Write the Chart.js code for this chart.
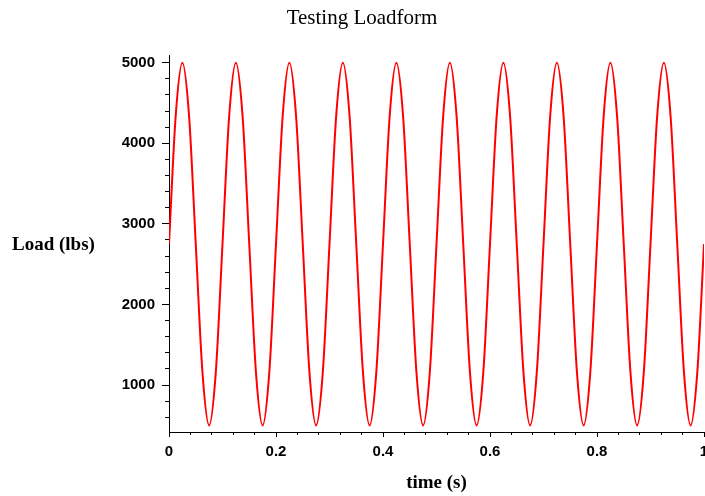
<!DOCTYPE html>
<html>
<head>
<meta charset="utf-8">
<script src="https://cdn.jsdelivr.net/npm/chart.js@4/dist/chart.umd.min.js"></script>
<style>
  html, body { margin: 0; padding: 0; background: #fff; }
  #wrap { width: 705px; height: 496px; }
</style>
</head>
<body>
<div id="wrap"><canvas id="chart"></canvas></div>
<script>
const chartTitle = 'Testing Loadform';
const xTitle = 'time (s)';
const yTitle = 'Load (lbs)';

const xTicks = [0, 0.2, 0.4, 0.6, 0.8, 1];
const yTicks = [1000, 2000, 3000, 4000, 5000];

// time samples (s), every 1/8 cycle
const times = [
  0, 0.0125, 0.025, 0.0375, 0.05, 0.0625, 0.075, 0.0875,
  0.1, 0.1125, 0.125, 0.1375, 0.15, 0.1625, 0.175, 0.1875,
  0.2, 0.2125, 0.225, 0.2375, 0.25, 0.2625, 0.275, 0.2875,
  0.3, 0.3125, 0.325, 0.3375, 0.35, 0.3625, 0.375, 0.3875,
  0.4, 0.4125, 0.425, 0.4375, 0.45, 0.4625, 0.475, 0.4875,
  0.5, 0.5125, 0.525, 0.5375, 0.55, 0.5625, 0.575, 0.5875,
  0.6, 0.6125, 0.625, 0.6375, 0.65, 0.6625, 0.675, 0.6875,
  0.7, 0.7125, 0.725, 0.7375, 0.75, 0.7625, 0.775, 0.7875,
  0.8, 0.8125, 0.825, 0.8375, 0.85, 0.8625, 0.875, 0.8875,
  0.9, 0.9125, 0.925, 0.9375, 0.95, 0.9625, 0.975, 0.9875,
  1
];

// load (lbs) at those times
const loads = [
  2750, 4340, 5000, 4340, 2750, 1160, 500, 1160,
  2750, 4340, 5000, 4340, 2750, 1160, 500, 1160,
  2750, 4340, 5000, 4340, 2750, 1160, 500, 1160,
  2750, 4340, 5000, 4340, 2750, 1160, 500, 1160,
  2750, 4340, 5000, 4340, 2750, 1160, 500, 1160,
  2750, 4340, 5000, 4340, 2750, 1160, 500, 1160,
  2750, 4340, 5000, 4340, 2750, 1160, 500, 1160,
  2750, 4340, 5000, 4340, 2750, 1160, 500, 1160,
  2750, 4340, 5000, 4340, 2750, 1160, 500, 1160,
  2750, 4340, 5000, 4340, 2750, 1160, 500, 1160,
  2750
];

const points = times.map((t, i) => ({ x: t, y: loads[i] }));

const tickFont = { family: 'Liberation Sans', size: 15, weight: 'bold' };

// minor tick positions between the bounds
function minorTicks(min, max, step) {
  const out = [];
  for (let v = Math.ceil(min / step) * step; v <= max + 1e-9; v += step) {
    out.push({ value: Math.round(v * 1e6) / 1e6 });
  }
  return out;
}

function noPad(s) {
  s.paddingLeft = 0;
  s.paddingRight = 0;
  s.paddingTop = 0;
  s.paddingBottom = 0;
}

// axis titles and chart title drawn by hand, they sit where Maple puts them
const textPlugin = {
  id: 'texts',
  afterDraw(chart) {
    const ctx = chart.ctx;
    const area = chart.chartArea;
    ctx.save();
    ctx.fillStyle = '#000';
    ctx.font = '21px "Liberation Serif"';
    ctx.textAlign = 'center';
    ctx.textBaseline = 'middle';
    ctx.fillText(chartTitle, 362, 18);

    ctx.font = 'bold 19px "Liberation Serif"';
    ctx.fillText(xTitle, (area.left + area.right) / 2, 483);

    ctx.textAlign = 'left';
    ctx.fillText(yTitle, 12, 245);
    ctx.restore();
  }
};

new Chart(document.getElementById('chart'), {
  type: 'line',
  data: {
    datasets: [{
      data: points,
      borderColor: '#ff0000',
      borderWidth: 2,
      pointRadius: 0,
      cubicInterpolationMode: 'monotone',
      fill: false
    }]
  },
  options: {
    responsive: true,
    maintainAspectRatio: false,
    animation: false,
    layout: { padding: { left: 0, right: 1, top: 55, bottom: 0 } },
    scales: {
      x: {
        type: 'linear',
        min: 0,
        max: 1,
        weight: 1,
        afterBuildTicks: s => { s.ticks = xTicks.map(v => ({ value: v })); },
        afterFit: s => { s.height = 64; noPad(s); },
        ticks: {
          color: '#000', font: tickFont, padding: 6, maxRotation: 0, autoSkip: false,
          callback: v => String(Math.round(v * 10) / 10)
        },
        grid: { drawOnChartArea: false, tickLength: 5, color: '#000' },
        border: { color: '#000' }
      },
      xMinor: {
        type: 'linear',
        position: 'bottom',
        min: 0,
        max: 1,
        weight: 0,
        afterBuildTicks: s => { s.ticks = minorTicks(0, 1, 0.04); },
        afterFit: s => { s.height = 0; noPad(s); },
        ticks: { display: false, autoSkip: false },
        grid: { drawOnChartArea: false, tickLength: 3, color: '#000' },
        border: { display: false }
      },
      y: {
        type: 'linear',
        min: 418,
        max: 5095,
        weight: 1,
        afterBuildTicks: s => { s.ticks = yTicks.map(v => ({ value: v })); },
        afterFit: s => { s.width = 169; noPad(s); },
        ticks: { color: '#000', font: tickFont, padding: 7, autoSkip: false, callback: v => String(v) },
        grid: { drawOnChartArea: false, tickLength: 7, color: '#000' },
        border: { color: '#000' }
      },
      yMinor: {
        type: 'linear',
        position: 'left',
        min: 418,
        max: 5095,
        weight: 0,
        afterBuildTicks: s => { s.ticks = minorTicks(418, 5095, 200); },
        afterFit: s => { s.width = 0; noPad(s); },
        ticks: { display: false, autoSkip: false },
        grid: { drawOnChartArea: false, tickLength: 4, color: '#000' },
        border: { display: false }
      }
    },
    plugins: {
      legend: { display: false },
      tooltip: { enabled: false }
    }
  },
  plugins: [textPlugin]
});
</script>
</body>
</html>
